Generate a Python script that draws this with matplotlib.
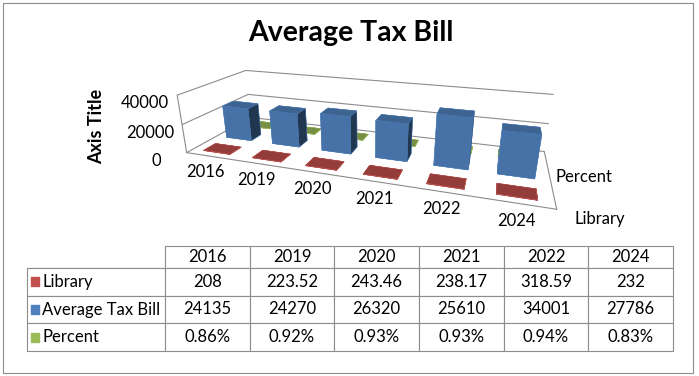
import matplotlib.pyplot as plt
from matplotlib.patches import Rectangle
from matplotlib.table import Table
import numpy as np

plt.rcParams['font.family'] = ['Lato', 'DejaVu Sans']

years = ['2016', '2019', '2020', '2021', '2022', '2024']
library = [208, 223.52, 243.46, 238.17, 318.59, 232]
tax_bill = [24135, 24270, 26320, 25610, 34001, 27786]
percent = [0.86, 0.92, 0.93, 0.93, 0.94, 0.83]  # in %

series_names = ['Library', 'Average Tax Bill', 'Percent']
series_colors = ['#C0504D', '#4F81BD', '#9BBB59']

fig = plt.figure(figsize=(6.99, 3.76), dpi=100)

# chart border
fig.add_artist(Rectangle((0.004, 0.008), 0.987, 0.984, transform=fig.transFigure,
                         fill=False, ec='#8c8c8c', lw=0.8))

fig.text(0.502, 0.912, 'Average Tax Bill', ha='center', va='center',
         fontsize=20.5, fontweight='bold')

# --- 3D column chart ---
ax = fig.add_axes([0.12, 0.413, 0.80, 0.50], projection='3d')
ax.set_proj_type('persp', focal_length=0.4)
ax.view_init(elev=20, azim=-72)
ax.set_box_aspect((6, 2.0, 1.05), zoom=1.92)

x = np.arange(len(years))
values = [library, tax_bill, [p / 100 for p in percent]]
w, d = 0.55, 0.5
# one collection per bar so the depth sorting works between bars
for i, (vals, col) in enumerate(zip(values, series_colors)):
    for xi, v in zip(x, vals):
        bar = ax.bar3d(xi - w / 2, i - d / 2, 0, w, d, v, color=col, shade=True,
                       edgecolor=col, linewidth=0.3)
        bar.set_clip_on(False)

ax.set_xlim(-0.5, len(years) - 0.5)
ax.set_ylim(-0.5, 2.5)
ax.set_zlim(0, 40000)
ax.set_xticks(x)
ax.set_xticklabels(years, fontsize=12)
ax.set_yticks([0, 2])
ax.set_yticklabels(['Library', 'Percent'], fontsize=12)
ax.set_zticks([0, 20000, 40000])
ax.set_zticklabels(['0', '20000', '40000'], fontsize=12)
ax.zaxis.set_ticks_position('lower')
ax.tick_params(axis='z', pad=-2)
ax.tick_params(axis='y', pad=-1)
ax.tick_params(axis='x', pad=-3)

for axis in (ax.xaxis, ax.yaxis, ax.zaxis):
    axis.set_pane_color((1, 1, 1, 0))
    axis.pane.set_edgecolor('#8c8c8c')
    axis.pane.set_clip_on(False)
    axis.line.set_color('#8c8c8c')
    axis.line.set_linewidth(0.8)
    axis.line.set_clip_on(False)
    axis.gridlines.set_clip_on(False)
    axis._axinfo['tick']['inward_factor'] = 0
    axis._axinfo['tick']['outward_factor'] = 0
ax.xaxis._axinfo['grid']['color'] = (1, 1, 1, 0)
ax.yaxis._axinfo['grid']['color'] = (1, 1, 1, 0)
ax.zaxis._axinfo['grid']['color'] = '#8c8c8c'
ax.zaxis._axinfo['grid']['linewidth'] = 0.8

fig.text(0.138, 0.665, 'Axis Title', rotation=90, ha='center', va='center',
         fontsize=13, fontweight='bold')

# --- data table ---
tax = fig.add_axes([27 / 699, 1 - 351 / 376, 646 / 699, 105 / 376])
tax.axis('off')
table = Table(tax, bbox=[0, 0, 1, 1])
label_w = 138 / 646
col_w = (1 - label_w) / len(years)
head_h = 22 / 105
row_h = (1 - head_h) / 3

rows = [
    [f'{v:g}' for v in library],
    [f'{v:g}' for v in tax_bill],
    [f'{v:.2f}%' for v in percent],
]

hdr = table.add_cell(0, 0, label_w, head_h, text='')
hdr.visible_edges = 'BR'
for j, yr in enumerate(years):
    table.add_cell(0, j + 1, col_w, head_h, text=yr, loc='center')
for r, (name, vals) in enumerate(zip(series_names, rows), start=1):
    c = table.add_cell(r, 0, label_w, row_h, text=name, loc='left')
    c.PAD = 0.11
    for j, v in enumerate(vals):
        table.add_cell(r, j + 1, col_w, row_h, text=v, loc='center')

table.auto_set_font_size(False)
table.set_fontsize(12)
for cell in table.get_celld().values():
    cell.set_edgecolor('#8c8c8c')
    cell.set_linewidth(0.8)
tax.add_table(table)

# legend keys in row labels
for r, col in enumerate(series_colors):
    yc = 1 - head_h - row_h * (r + 0.5)
    tax.add_patch(Rectangle((0.006, yc - 0.043), 0.0125, 0.086, color=col,
                            transform=tax.transAxes))

fig.savefig('out.png', dpi=100)
